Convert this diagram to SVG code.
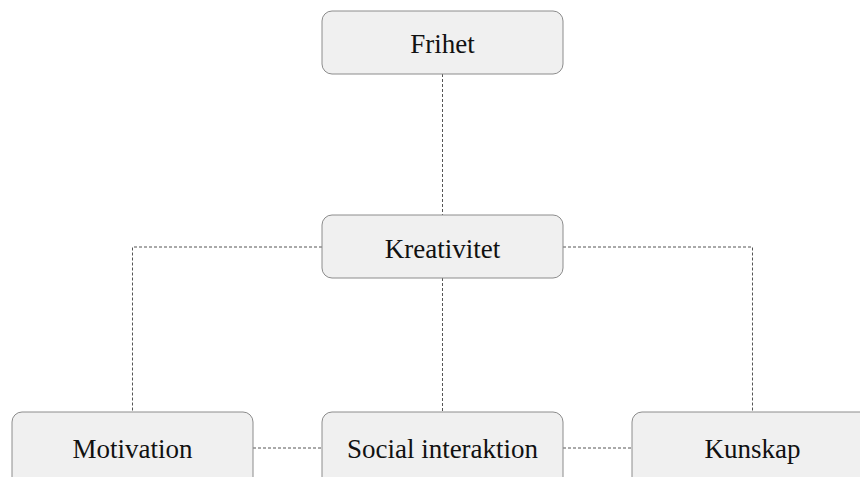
<svg xmlns="http://www.w3.org/2000/svg" width="860" height="477" viewBox="0 0 860 477">
<style>
.box{fill:#f0f0f0;stroke:#8c8c8c;stroke-width:1}
.lbl{font-family:"Liberation Serif","Times New Roman",serif;font-size:27px;fill:#111;text-anchor:middle}
.con{fill:none;stroke:#555;stroke-width:1;stroke-dasharray:3,2}
</style>
<rect width="860" height="477" fill="#fff"/>
<g id="connectors">
<path class="con" d="M442.5,74 V215"/>
<path class="con" d="M442.5,278 V412"/>
<path class="con" d="M322,247 H132.5 V412"/>
<path class="con" d="M563,247 H752.5 V412"/>
<path class="con" d="M253,448 H322"/>
<path class="con" d="M563,448 H632"/>
</g>
<g id="frihet"><rect class="box" x="322" y="11" width="241" height="63" rx="10"/><text class="lbl" x="442.5" y="53">Frihet</text></g>
<g id="kreativitet"><rect class="box" x="322" y="215" width="241" height="63" rx="10"/><text class="lbl" x="442.5" y="258">Kreativitet</text></g>
<g id="motivation"><rect class="box" x="12" y="412" width="241" height="80" rx="10"/><text class="lbl" x="132.5" y="458">Motivation</text></g>
<g id="social"><rect class="box" x="322" y="412" width="241" height="80" rx="10"/><text class="lbl" x="442.5" y="458">Social interaktion</text></g>
<g id="kunskap"><rect class="box" x="632" y="412" width="241" height="80" rx="10"/><text class="lbl" x="752.5" y="458">Kunskap</text></g>
</svg>
